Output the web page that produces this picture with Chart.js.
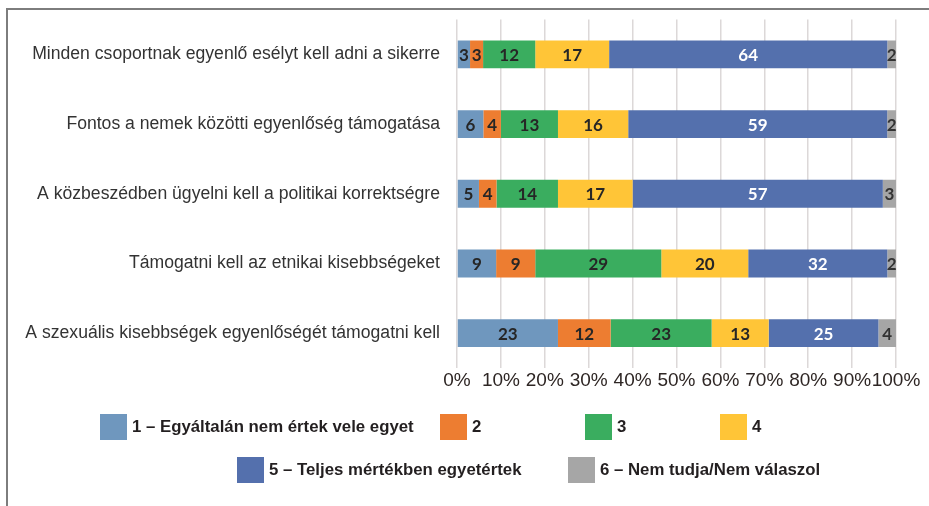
<!DOCTYPE html>
<html>
<head>
<meta charset="utf-8">
<script src="https://cdn.jsdelivr.net/npm/chart.js@4/dist/chart.umd.min.js"></script>
<style>
    body { margin: 0; background: #fff; }
    #wrap { position: relative; width: 929px; height: 506px; overflow: hidden; }
    #frame-top { position: absolute; left: 7px; top: 8px; width: 922px; height: 2px; background: #7d7d7d; }
    #frame-left { position: absolute; left: 6px; top: 8px; width: 2px; height: 498px; background: #7d7d7d; }
    canvas { position: absolute; left: 0; top: 0; }
    .leg { position: absolute; display: flex; align-items: center; font: bold 16.8px "Liberation Sans", Arial, sans-serif; color: #231f20; white-space: nowrap; }
    .leg span.box { display: inline-block; width: 27px; height: 26px; margin-right: 5px; }
</style>
</head>
<body>
<div id="wrap">
    <canvas id="chart" width="929" height="506"></canvas>
    <div id="frame-top"></div>
    <div id="frame-left"></div>
    <div id="legend"></div>
</div>
<script>
var categories = [
    'Minden csoportnak egyenlő esélyt kell adni a sikerre',
    'Fontos a nemek közötti egyenlőség támogatása',
    'A közbeszédben ügyelni kell a politikai korrektségre',
    'Támogatni kell az etnikai kisebbségeket',
    'A szexuális kisebbségek egyenlőségét támogatni kell'
];
var seriesNames = [
    '1 – Egyáltalán nem értek vele egyet',
    '2',
    '3',
    '4',
    '5 – Teljes mértékben egyetértek',
    '6 – Nem tudja/Nem válaszol'
];
var answer1 = [3, 6, 5, 9, 23];
var answer2 = [3, 4, 4, 9, 12];
var answer3 = [12, 13, 14, 29, 23];
var answer4 = [17, 16, 17, 20, 13];
var answer5 = [64, 59, 57, 32, 25];
var answer6 = [2, 2, 3, 2, 4];
var xTickValues = [0, 10, 20, 30, 40, 50, 60, 70, 80, 90, 100];

var colors = ['#6f97be', '#ed7d31', '#3aad5f', '#ffc537', '#5470ad', '#a6a6a6'];
var labelColors = ['#262626', '#262626', '#262626', '#262626', '#ffffff', '#333333'];

var allSeries = [answer1, answer2, answer3, answer4, answer5, answer6];

// the chart is 100% stacked, so every row is scaled to its own total
var rowTotals = categories.map(function (c, i) {
    return allSeries.reduce(function (sum, s) { return sum + s[i]; }, 0);
});

var datasets = allSeries.map(function (s, k) {
    return {
        label: seriesNames[k],
        data: s.map(function (v, i) { return v / rowTotals[i] * 100; }),
        raw: s,
        backgroundColor: colors[k],
        borderWidth: 0,
        barPercentage: 0.4,
        categoryPercentage: 1
    };
});

var valueLabels = {
    id: 'valueLabels',
    afterDatasetsDraw: function (chart) {
        var ctx = chart.ctx;
        ctx.save();
        ctx.font = 'bold 17px Lato, "Open Sans", sans-serif';
        ctx.textAlign = 'center';
        ctx.textBaseline = 'middle';
        chart.data.datasets.forEach(function (ds, k) {
            chart.getDatasetMeta(k).data.forEach(function (bar, i) {
                ctx.fillStyle = labelColors[k];
                ctx.fillText(ds.raw[i], (bar.x + bar.base) / 2, bar.y + 1);
            });
        });
        ctx.restore();
    }
};

new Chart(document.getElementById('chart'), {
    type: 'bar',
    data: { labels: categories, datasets: datasets },
    plugins: [valueLabels],
    options: {
        responsive: false,
        animation: false,
        indexAxis: 'y',
        layout: { padding: { left: 0, right: 33, top: 12, bottom: 108 } },
        plugins: {
            legend: { display: false },
            tooltip: { enabled: false }
        },
        scales: {
            x: {
                stacked: true,
                min: 0,
                max: 100,
                afterBuildTicks: function (scale) {
                    scale.ticks = xTickValues.map(function (v) { return { value: v }; });
                },
                afterFit: function (scale) { scale.height = 30; },
                grid: { color: '#dcd8d8', lineWidth: 1.5, drawTicks: false },
                border: { display: false },
                ticks: {
                    autoSkip: false,
                    maxRotation: 0,
                    padding: 1,
                    color: '#2e2624',
                    font: { family: '"Liberation Sans", Arial, sans-serif', size: 19 },
                    callback: function (v) { return v + '%'; }
                }
            },
            y: {
                stacked: true,
                afterFit: function (scale) { scale.width = 457; },
                grid: { display: false },
                border: { display: false },
                ticks: {
                    padding: 9,
                    color: '#333333',
                    font: { family: '"Liberation Sans", Arial, sans-serif', size: 17.6 }
                }
            }
        }
    }
});

// legend laid out like the original two-row legend
var legendSpots = [[100, 414], [440, 414], [585, 414], [720, 414], [237, 457], [568, 457]];
var legendBox = document.getElementById('legend');
seriesNames.forEach(function (name, k) {
    var item = document.createElement('div');
    item.className = 'leg';
    item.style.left = legendSpots[k][0] + 'px';
    item.style.top = legendSpots[k][1] + 'px';
    item.innerHTML = '<span class="box" style="background:' + colors[k] + '"></span>' + name;
    legendBox.appendChild(item);
});
</script>
</body>
</html>
